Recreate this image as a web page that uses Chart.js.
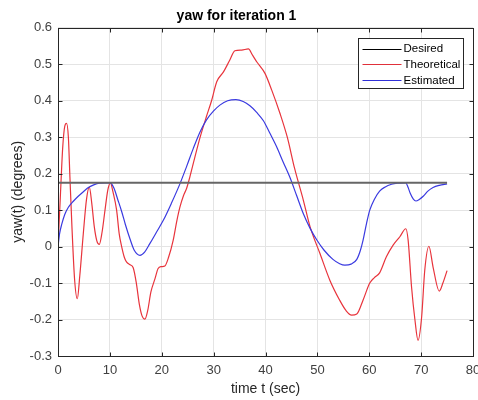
<!DOCTYPE html>
<html>
<head>
<meta charset="utf-8">
<script src="https://cdn.jsdelivr.net/npm/chart.js@4/dist/chart.umd.min.js"></script>
<style>
html,body{margin:0;padding:0;background:#fff;overflow:hidden;}
#wrap{width:478px;height:400px;overflow:hidden;position:relative;}
</style>
</head>
<body>
<div id="wrap"><canvas id="c" width="500" height="400"></canvas></div>
<script>
// ---- data ----
const seriesLabels = ["Desired", "Theoretical", "Estimated"];
const xTickLabels = ["0","10","20","30","40","50","60","70","80"];
const yTickLabels = ["-0.3","-0.2","-0.1","0","0.1","0.2","0.3","0.4","0.5","0.6"];

const desiredT = [0, 75];
const desiredY = [0.175, 0.175];

const theoT = [0,0.4,0.9,1.3,1.65,2.0,2.3,2.7,3.2,3.72,4.2,4.88,5.5,6.04,6.5,7.0,7.5,7.96,8.5,9.06,9.6,10.1,10.6,11.3,11.8,12.27,12.8,13.2,13.9,14.5,15.1,15.7,16.2,16.75,17.3,17.9,18.7,19.3,19.9,20.6,21.3,22.2,22.9,23.5,24.2,24.8,25.4,26.4,27.4,28.6,29.6,30.6,31.9,33.1,34.1,35.4,36.7,37.5,38.3,39.9,41.2,42.8,44.2,45.6,47.3,48.6,50.5,52.4,54.3,55.5,56.6,57.6,58.8,60.1,61.0,62.0,63.3,64.6,65.9,67.05,67.5,68.15,68.8,69.4,70.1,70.7,71.5,72.3,73.5,74.2,75.0];
const theoY = [0,0.12,0.27,0.33,0.338,0.30,0.19,0.05,-0.09,-0.143,-0.08,0.036,0.13,0.163,0.12,0.054,0.015,0.006,0.04,0.10,0.155,0.175,0.15,0.10,0.035,0.0,-0.03,-0.042,-0.05,-0.058,-0.1,-0.16,-0.19,-0.199,-0.175,-0.125,-0.088,-0.06,-0.055,-0.053,-0.03,0.017,0.07,0.108,0.14,0.16,0.19,0.246,0.30,0.356,0.40,0.452,0.479,0.511,0.537,0.539,0.542,0.525,0.507,0.475,0.429,0.365,0.30,0.215,0.127,0.054,-0.019,-0.092,-0.147,-0.175,-0.188,-0.185,-0.147,-0.1,-0.085,-0.072,-0.028,0.004,0.027,0.049,0.017,-0.11,-0.2,-0.257,-0.193,-0.065,0.001,-0.056,-0.122,-0.1,-0.066];

const estT = [0,0.3,0.7,1.3,2.0,3.0,3.9,5.0,5.85,7.0,8.0,9.0,10.1,10.8,11.5,12.3,13.0,13.9,14.7,15.8,16.7,17.7,19.0,20.3,21.9,23.5,24.8,26.1,27.4,28.6,30.0,31.2,32.7,34.3,35.7,37.0,38.3,39.6,40.8,42.1,43.4,44.7,46.0,47.3,48.6,49.9,51.3,53.0,54.3,55.3,56.5,57.6,58.3,58.8,59.5,60.1,61.0,62.0,63.0,64.3,65.6,67.05,67.5,67.9,68.5,69.0,69.7,70.4,71.3,72.3,73.5,75.0];
const estY = [0,0.035,0.06,0.088,0.108,0.125,0.138,0.152,0.162,0.170,0.174,0.175,0.175,0.16,0.13,0.095,0.06,0.02,-0.01,-0.024,-0.015,0.008,0.04,0.072,0.12,0.172,0.22,0.27,0.315,0.347,0.372,0.388,0.400,0.403,0.398,0.386,0.368,0.345,0.312,0.275,0.232,0.19,0.14,0.09,0.05,0.018,-0.01,-0.035,-0.047,-0.051,-0.048,-0.035,-0.01,0.017,0.065,0.1,0.13,0.152,0.163,0.171,0.174,0.175,0.162,0.146,0.13,0.125,0.13,0.138,0.152,0.162,0.168,0.172];

// ---- styles ----
const FONT = "'Liberation Sans', Arial, Helvetica, sans-serif";
const lineColors = ["#666666", "#e8343c", "#3a3ae0"];
const legendColors = ["#000000", "#e0303a", "#3030d8"];

function pts(xs, ys){ return xs.map((x,i)=>({x:x, y:ys[i]})); }

const boxPlugin = {
  id: 'boxPlugin',
  afterDraw(chart){
    const ctx = chart.ctx;
    const a = chart.chartArea;
    const xs = chart.scales.x, ys = chart.scales.y;
    ctx.save();
    ctx.strokeStyle = '#262626';
    ctx.lineWidth = 1;
    const L = Math.round(a.left)+0.5, R = Math.round(a.right)+0.5, T = Math.round(a.top)+0.5, B = Math.round(a.bottom)+0.5;
    ctx.beginPath();
    xs.ticks.forEach(t=>{
      const p = Math.round(xs.getPixelForValue(t.value))+0.5;
      ctx.moveTo(p, B); ctx.lineTo(p, B-4);
      ctx.moveTo(p, T); ctx.lineTo(p, T+4);
    });
    ys.ticks.forEach(t=>{
      const p = Math.round(ys.getPixelForValue(t.value))+0.5;
      ctx.moveTo(L, p); ctx.lineTo(L+4, p);
      ctx.moveTo(R, p); ctx.lineTo(R-4, p);
    });
    ctx.stroke();
    ctx.strokeRect(L, T, R-L, B-T);
    // legend
    const w = 105, h = 50;
    const lx = Math.round(a.right - 10 - w) + 0.5, ly = Math.round(a.top + 10) + 0.5;
    ctx.fillStyle = '#ffffff';
    ctx.fillRect(lx, ly, w, h);
    ctx.strokeStyle = '#262626';
    ctx.strokeRect(lx, ly, w, h);
    ctx.font = "11.5px " + FONT;
    ctx.textBaseline = 'middle';
    ctx.textAlign = 'left';
    seriesLabels.forEach((lab, i)=>{
      const yy = ly + 10 + i*15.8;
      ctx.strokeStyle = legendColors[i];
      ctx.lineWidth = 1;
      ctx.beginPath();
      ctx.moveTo(lx+4, Math.round(yy)+0.5); ctx.lineTo(lx+43, Math.round(yy)+0.5);
      ctx.stroke();
      ctx.fillStyle = '#000000';
      ctx.fillText(lab, lx+45, yy+0.5);
    });
    ctx.restore();
  }
};

new Chart(document.getElementById('c'), {
  type: 'line',
  data: {
    datasets: [
      { label: seriesLabels[0], data: pts(desiredT, desiredY), borderColor: lineColors[0], borderWidth: 2, pointRadius: 0, tension: 0, order: 0 },
      { label: seriesLabels[1], data: pts(theoT, theoY), borderColor: lineColors[1], borderWidth: 1.2, pointRadius: 0, cubicInterpolationMode: 'monotone', order: 2 },
      { label: seriesLabels[2], data: pts(estT, estY), borderColor: lineColors[2], borderWidth: 1.2, pointRadius: 0, cubicInterpolationMode: 'monotone', order: 1 }
    ]
  },
  options: {
    responsive: false,
    animation: false,
    devicePixelRatio: 1,
    layout: { padding: { left: 0, right: 27, top: 0, bottom: 0 } },
    plugins: {
      legend: { display: false },
      tooltip: { enabled: false },
      title: {
        display: true,
        text: 'yaw for iteration 1',
        color: '#000000',
        font: { family: FONT, size: 14, weight: 'bold', lineHeight: 1.2 },
        padding: { top: 8, bottom: 3 }
      }
    },
    scales: {
      x: {
        type: 'linear',
        min: 0, max: 80,
        afterFit(s){ s.height = 44; },
        ticks: {
          stepSize: 10,
          color: '#404040',
          font: { family: FONT, size: 13 },
          padding: 7,
          maxRotation: 0,
          callback: (v)=> xTickLabels[Math.round(v/10)]
        },
        grid: { color: '#e4e4e4', drawTicks: false },
        border: { display: false },
        title: {
          display: true,
          text: 'time t (sec)',
          color: '#262626',
          font: { family: FONT, size: 14 },
          padding: { top: 0, bottom: 2 }
        }
      },
      y: {
        min: -0.3, max: 0.6,
        afterFit(s){ s.width = 58; },
        ticks: {
          stepSize: 0.1,
          color: '#404040',
          font: { family: FONT, size: 13 },
          padding: 6,
          callback: (v)=> yTickLabels[Math.round((v+0.3)*10)]
        },
        grid: { color: '#e4e4e4', drawTicks: false },
        border: { display: false },
        title: {
          display: true,
          text: 'yaw(t) (degrees)',
          color: '#262626',
          font: { family: FONT, size: 14 },
          padding: { top: 10, bottom: 0 }
        }
      }
    }
  },
  plugins: [boxPlugin]
});
</script>
</body>
</html>
